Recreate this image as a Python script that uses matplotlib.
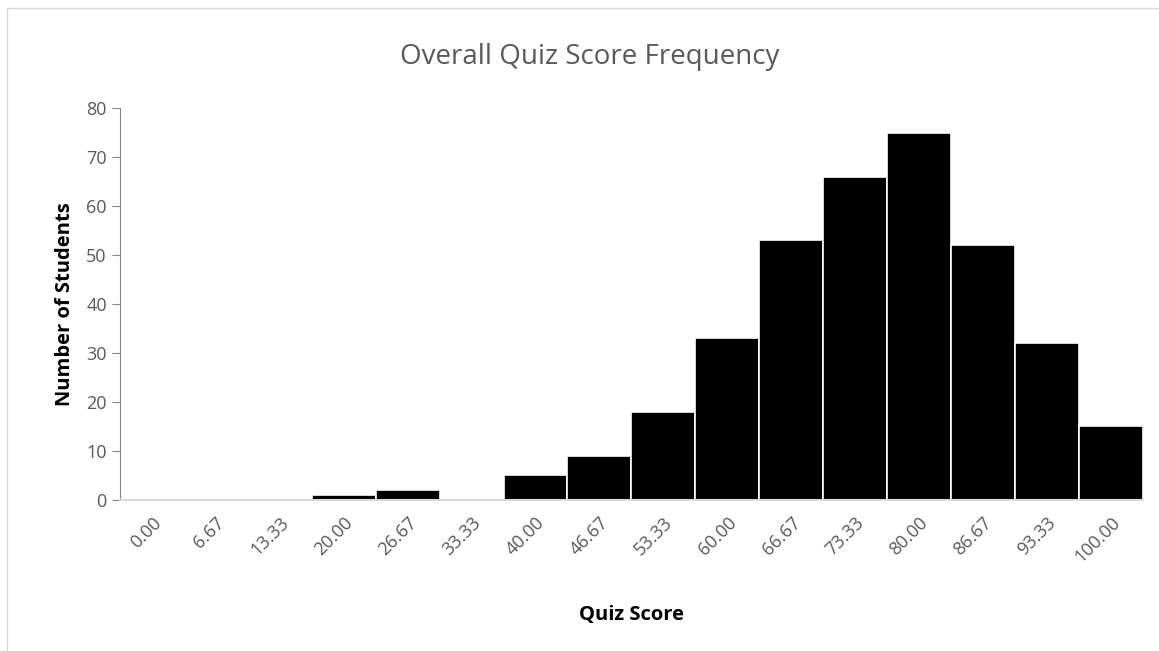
import matplotlib.pyplot as plt
from matplotlib.patches import Rectangle

plt.rcParams['font.family'] = ['Open Sans', 'DejaVu Sans']

bins = ['0.00', '6.67', '13.33', '20.00', '26.67', '33.33', '40.00', '46.67',
        '53.33', '60.00', '66.67', '73.33', '80.00', '86.67', '93.33', '100.00']
counts = [0, 0, 0, 1, 2, 0, 5, 9, 18, 33, 53, 66, 75, 52, 32, 15]

fig = plt.figure(figsize=(11.59, 6.51), dpi=100)
ax = fig.add_axes([0.1035, 0.232, 0.8825, 0.602])

# outer chart border (cropped at right and bottom)
fig.patches.append(Rectangle((0.006, -0.05), 1.05, 1.037, transform=fig.transFigure,
                             fill=False, edgecolor='#d9d9d9', linewidth=1))

x = range(len(bins))
ax.bar(x, counts, width=1.0, color='black', edgecolor='white', linewidth=1.2)

ax.set_xlim(-0.5, len(bins) - 0.5)
ax.set_ylim(0, 80)
ax.set_yticks(range(0, 81, 10))
ax.set_xticks(list(x))
ax.set_xticklabels(bins, rotation=45, ha='right', rotation_mode='anchor')

for s in ['top', 'right']:
    ax.spines[s].set_visible(False)
ax.spines['left'].set_color('#868686')
ax.spines['bottom'].set_color('#d9d9d9')
ax.spines['bottom'].set_linewidth(1.5)
ax.tick_params(axis='y', colors='#868686', labelcolor='#595959', labelsize=13,
               length=6, direction='out')
ax.tick_params(axis='x', length=0, labelcolor='#595959', labelsize=13, pad=10)

fig.text(0.509, 0.913, 'Overall Quiz Score Frequency', fontsize=20, color='#595959',
         ha='center', va='center')
ax.set_ylabel('Number of Students', fontsize=14.5, fontweight='bold', color='black', labelpad=8)
ax.set_xlabel('Quiz Score', fontsize=14.5, fontweight='bold', color='black', labelpad=28)

fig.savefig('out.png', dpi=100)
